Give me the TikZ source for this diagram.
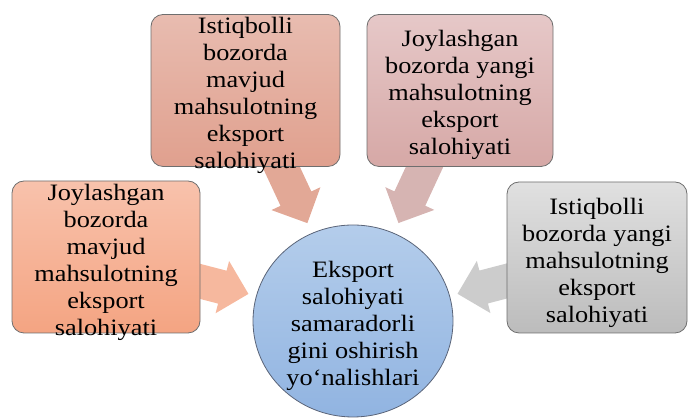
\documentclass[tikz,border=0pt]{standalone}
\usepackage{fontspec}
\setmainfont[FakeStretch=1.12]{Liberation Serif}
\usetikzlibrary{calc,backgrounds,shapes.geometric}
\definecolor{bAtop}{RGB}{248,194,172}
\definecolor{bAbot}{RGB}{244,164,130}
\definecolor{bBtop}{RGB}{232,188,176}
\definecolor{bBbot}{RGB}{224,160,142}
\definecolor{bCtop}{RGB}{230,200,200}
\definecolor{bCbot}{RGB}{214,168,166}
\definecolor{bDtop}{RGB}{224,224,224}
\definecolor{bDbot}{RGB}{188,188,188}
\definecolor{ctop}{RGB}{180,205,235}
\definecolor{cbot}{RGB}{145,180,225}
\definecolor{arA}{RGB}{246,184,158}
\definecolor{arB}{RGB}{226,168,150}
\definecolor{arC}{RGB}{214,180,178}
\definecolor{arD}{RGB}{204,204,204}
\definecolor{boxline}{RGB}{110,110,110}
\definecolor{circline}{RGB}{90,100,120}
\begin{document}
\begin{tikzpicture}[x=1pt,y=1pt,
  box/.style={rectangle, rounded corners=12pt, draw=boxline, line width=0.8pt, inner sep=0pt, minimum height=152pt},
  txt/.style={align=center, inner sep=0pt, font=\fontsize{23.5}{27}\selectfont},
  ]
\useasboundingbox (0,0) rectangle (688,419);
\node[box, minimum width=188pt, top color=bAtop, bottom color=bAbot] (b1) at (106,162) {};
\node[box, minimum width=189pt, top color=bBtop, bottom color=bBbot] (b2) at (245.5,328.5) {};
\node[box, minimum width=186pt, top color=bCtop, bottom color=bCbot] (b3) at (460,328.5) {};
\node[box, minimum width=180pt, minimum height=151pt, top color=bDtop, bottom color=bDbot] (b4) at (597,161.5) {};
\node[ellipse, draw=circline, line width=0.8pt, minimum width=200pt, minimum height=192pt, inner sep=0pt, top color=ctop, bottom color=cbot] (c) at (353,98) {};

\node[txt] (t1) at ($(b1.center)+(0,-5)$) {Joylashgan\\bozorda\\mavjud\\mahsulotning\\eksport\\salohiyati};
\node[txt] (t2) at ($(b2.center)+(0,-5)$) {Istiqbolli\\bozorda\\mavjud\\mahsulotning\\eksport\\salohiyati};
\node[txt] (t3) at ($(b3.center)+(0,-4)$) {Joylashgan\\bozorda yangi\\mahsulotning\\eksport\\salohiyati};
\node[txt] (t4) at ($(b4.center)+(0,-5)$) {Istiqbolli\\bozorda yangi\\mahsulotning\\eksport\\salohiyati};
\node[txt] (tc) at ($(c.center)+(0,-5)$) {Eksport\\salohiyati\\samaradorli\\gini oshirish\\yo‘nalishlari};

\begin{pgfonlayer}{background}
\foreach \b/\col in {b1/arA, b2/arB, b3/arC, b4/arD} {
  \coordinate (tip-\b) at ($(c.center)!108pt!(\b.center)$);
  \coordinate (base-\b) at ($(tip-\b)!27pt!(\b.center)$);
  \fill[\col] ($(\b.center)!17pt!90:(tip-\b)$) -- ($(base-\b)!17pt!-90:(\b.center)$)
    -- ($(base-\b)!27pt!-90:(\b.center)$) -- (tip-\b)
    -- ($(base-\b)!27pt!90:(\b.center)$) -- ($(base-\b)!17pt!90:(\b.center)$)
    -- ($(\b.center)!17pt!-90:(tip-\b)$) -- cycle;
}
\end{pgfonlayer}
\end{tikzpicture}
\end{document}
